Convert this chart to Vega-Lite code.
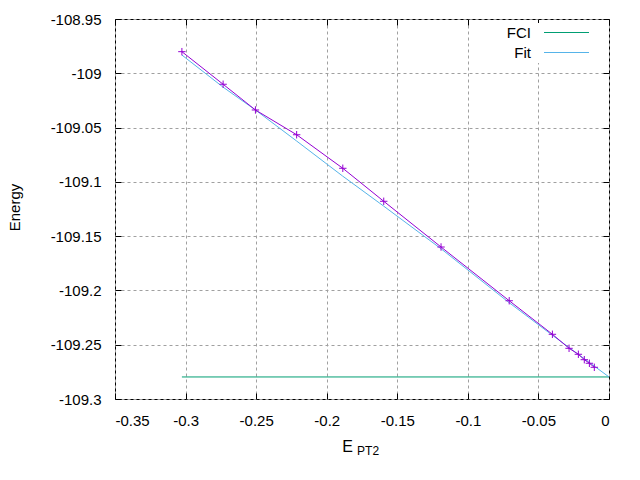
{
  "$schema": "https://vega.github.io/schema/vega-lite/v6.json",
  "width": 494,
  "height": 380,
  "autosize": {"type": "none"},
  "padding": {"left": 115, "top": 19, "right": 31, "bottom": 81},
  "background": "white",
  "datasets": {
    "lines": [
      {"series": "FCI", "x": -0.3026, "E": -109.2797},
      {"series": "FCI", "x": 0, "E": -109.2797},
      {"series": "Fit", "x": -0.3026, "E": -108.9832},
      {"series": "Fit", "x": -0.2736, "E": -109.0126},
      {"series": "Fit", "x": -0.2505, "E": -109.0338},
      {"series": "Fit", "x": -0.2213, "E": -109.0624},
      {"series": "Fit", "x": -0.1888, "E": -109.0946},
      {"series": "Fit", "x": -0.1598, "E": -109.1222},
      {"series": "Fit", "x": -0.1188, "E": -109.1618},
      {"series": "Fit", "x": -0.0707, "E": -109.2113},
      {"series": "Fit", "x": -0.0403, "E": -109.2411},
      {"series": "Fit", "x": 0, "E": -109.2797}
    ],
    "points": [
      {"x": -0.3026, "E": -108.9801},
      {"x": -0.2734, "E": -109.0101},
      {"x": -0.2505, "E": -109.0338},
      {"x": -0.2213, "E": -109.0566},
      {"x": -0.1886, "E": -109.0875},
      {"x": -0.1596, "E": -109.1179},
      {"x": -0.119, "E": -109.16},
      {"x": -0.0707, "E": -109.2095},
      {"x": -0.0401, "E": -109.2404},
      {"x": -0.0283, "E": -109.2533},
      {"x": -0.0217, "E": -109.2588},
      {"x": -0.0175, "E": -109.2638},
      {"x": -0.0139, "E": -109.2671},
      {"x": -0.0104, "E": -109.2708}
    ],
    "sub": [{"x": -0.1785, "E": -109.3, "t": "PT2"}]
  },
  "config": {
    "locale": {"number": {"decimal": ".", "thousands": ",", "grouping": [3], "currency": ["$", ""], "minus": "-"}},
    "font": "Liberation Sans",
    "view": {"stroke": "black", "strokeWidth": 1},
    "axis": {
      "labelFont": "Liberation Sans",
      "titleFont": "Liberation Sans",
      "labelFontSize": 15,
      "labelColor": "black",
      "titleColor": "black",
      "titleFontWeight": "normal",
      "domain": false,
      "tickColor": "black",
      "tickSize": 6,
      "tickWidth": 1,
      "gridColor": "#a0a0a0",
      "gridDash": [3, 3],
      "gridWidth": 1,
      "gridOpacity": 1
    },
    "legend": {
      "labelFont": "Liberation Sans",
      "labelFontSize": 15,
      "labelColor": "black"
    }
  },
  "layer": [
    {
      "data": {"name": "lines"},
      "mark": {"type": "line", "strokeWidth": 1, "clip": true},
      "encoding": {
        "x": {
          "field": "x", "type": "quantitative",
          "scale": {"domain": [-0.35, 0], "nice": false, "zero": false},
          "axis": {
            "orient": "bottom", "grid": true, "ticks": false, "values": [-0.35, -0.3, -0.25, -0.2, -0.15, -0.1, -0.05, 0],
            "format": "~g", "labelPadding": 14, "title": "E", "titleFontSize": 16,
            "titleX": 232, "titleY": 52, "titleBaseline": "alphabetic", "titleAlign": "center"
          }
        },
        "y": {
          "field": "E", "type": "quantitative",
          "scale": {"domain": [-109.3, -108.95], "nice": false, "zero": false},
          "axis": {
            "orient": "left", "grid": true, "ticks": false,
            "values": [-109.3, -109.25, -109.2, -109.15, -109.1, -109.05, -109, -108.95],
            "format": "~g", "labelPadding": 14, "title": "Energy", "titleFontSize": 15,
            "titleX": -101, "titleY": 188, "titleAngle": -90, "titleBaseline": "middle", "titleAlign": "center"
          }
        },
        "color": {
          "field": "series", "type": "nominal",
          "scale": {"domain": ["FCI", "Fit"], "range": ["#009e73", "#56b4e9"]},
          "legend": {
            "title": null, "orient": "none", "legendX": 382, "legendY": 4,
            "symbolType": "M-5,0L5,0", "symbolSize": 81, "symbolStrokeWidth": 1,
            "symbolOffset": 60, "labelAlign": "right", "labelOffset": -43, "rowPadding": 4,
            "fillColor": "white", "padding": 2
          }
        }
      }
    },
    {
      "data": {"name": "points"},
      "mark": {"type": "line", "color": "#9400d3", "strokeWidth": 1},
      "encoding": {
        "x": {"field": "x", "type": "quantitative", "axis": {"orient": "top", "labels": false, "grid": false, "title": null, "offset": -6, "values": [-0.35, -0.3, -0.25, -0.2, -0.15, -0.1, -0.05, 0]}},
        "y": {"field": "E", "type": "quantitative", "axis": {"orient": "right", "labels": false, "grid": false, "title": null, "offset": -6, "values": [-109.3, -109.25, -109.2, -109.15, -109.1, -109.05, -109, -108.95]}}
      }
    },
    {
      "data": {"name": "points"},
      "mark": {"type": "point", "shape": "M-1,0L1,0M0,-1L0,1", "color": "#9400d3", "filled": false, "size": 55, "strokeWidth": 1, "opacity": 1},
      "encoding": {
        "x": {"field": "x", "type": "quantitative", "axis": {"orient": "bottom", "labels": false, "grid": false, "title": null, "offset": -6, "values": [-0.35, -0.3, -0.25, -0.2, -0.15, -0.1, -0.05, 0]}},
        "y": {"field": "E", "type": "quantitative", "axis": {"orient": "left", "labels": false, "grid": false, "title": null, "offset": -6, "values": [-109.3, -109.25, -109.2, -109.15, -109.1, -109.05, -109, -108.95]}}
      }
    },
    {
      "data": {"name": "sub"},
      "mark": {"type": "text", "font": "Liberation Sans", "fontSize": 12, "dy": 56, "align": "left", "baseline": "alphabetic", "color": "black"},
      "encoding": {
        "x": {"field": "x", "type": "quantitative", "axis": null},
        "y": {"field": "E", "type": "quantitative", "axis": null},
        "text": {"field": "t"}
      }
    }
  ],
  "resolve": {"axis": {"x": "independent", "y": "independent"}}
}
